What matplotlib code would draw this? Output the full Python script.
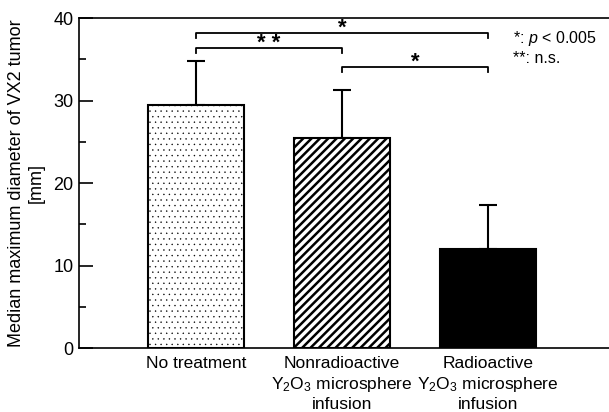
import matplotlib
matplotlib.use("Agg")
import matplotlib.pyplot as plt
from matplotlib.ticker import MultipleLocator

plt.rcParams['font.family'] = ['Liberation Sans', 'DejaVu Sans']
plt.rcParams['mathtext.fontset'] = 'custom'
plt.rcParams['mathtext.rm'] = 'Liberation Sans'
plt.rcParams['mathtext.it'] = 'Liberation Sans:italic'

categories = ["No treatment",
              "Nonradioactive\nY$_2$O$_3$ microsphere\ninfusion",
              "Radioactive\nY$_2$O$_3$ microsphere\ninfusion"]
medians = [29.5, 25.4, 12.0]
errors = [5.3, 5.9, 5.3]
hatches = ['...', '////', '']
hatch_widths = [0.25, 1.8, 1.0]
fills = ['white', 'white', 'black']

# significance brackets: (start bar, end bar, height, label)
brackets = [(0, 2, 38.2, '*'), (0, 1, 36.4, '* *'), (1, 2, 34.1, '*')]

fig = plt.figure(figsize=(6.09, 4.12), dpi=100)
ax = fig.add_axes([0.1297, 0.1553, 0.8703, 0.801])

x = list(range(len(categories)))
for i in x:
    with plt.rc_context({'hatch.linewidth': hatch_widths[i]}):
        ax.bar(i, medians[i], width=0.658, color=fills[i], edgecolor='black',
               hatch=hatches[i], linewidth=1.5, zorder=2)
ax.errorbar(x, medians, yerr=[[0] * 3, errors], fmt='none', ecolor='black',
            elinewidth=1.5, capsize=6.5, capthick=1.5, zorder=1)

for a, b, h, lab in brackets:
    ax.plot([a, a, b, b], [h - 0.6, h, h, h - 0.6], color='black', lw=1.3,
            clip_on=False)
    ax.text((a + b) / 2, h - 0.15, lab, ha='center', va='baseline',
            fontsize=16, fontweight='bold')

ax.text(2.17, 37.5, "*: $\\it{p}$ < 0.005", fontsize=11.5, va='center')
ax.text(2.17, 35.1, "**: n.s.", fontsize=11.5, va='center')

ax.set_xlim(-0.801, 2.829)
ax.set_ylim(0, 40)
ax.yaxis.set_major_locator(MultipleLocator(10))
ax.yaxis.set_minor_locator(MultipleLocator(5))
ax.tick_params(axis='y', which='major', direction='in', length=10, width=1.2,
               labelsize=13, pad=4)
ax.tick_params(axis='y', which='minor', direction='in', length=5, width=1.2)
ax.set_xticks(x)
ax.set_xticklabels(categories, fontsize=12.5, linespacing=1.25)
ax.tick_params(axis='x', length=0, pad=6)
ax.spines['right'].set_visible(False)
for s in ['left', 'top', 'bottom']:
    ax.spines[s].set_linewidth(1.2)

ax.set_ylabel("Median maximum diameter of VX2 tumor\n[mm]", fontsize=13,
              linespacing=1.2, labelpad=6)

fig.savefig("out.png", dpi=100)
